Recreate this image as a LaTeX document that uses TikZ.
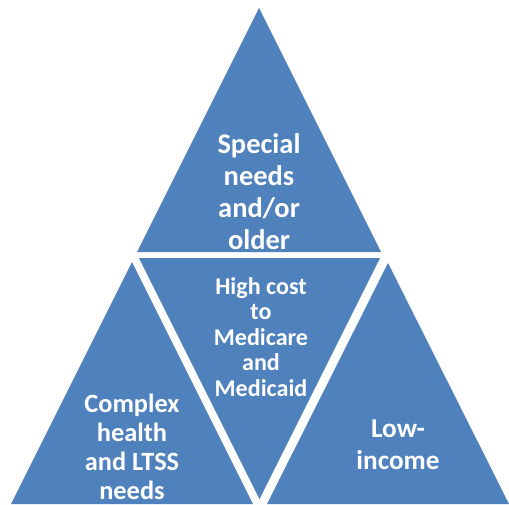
\documentclass[tikz,border=0pt]{standalone}
\usepackage{fontspec}
\setmainfont{Carlito}
\definecolor{triblue}{RGB}{79,129,189}
\begin{document}
\begin{tikzpicture}[x=0.02cm,y=-0.02cm,
    tritext/.style={text=white,align=center},
    big/.style={tritext,font=\fontsize{16.2}{18.2}\selectfont\bfseries},
    small/.style={tritext,font=\fontsize{13.7}{14.5}\selectfont\bfseries}]
    \useasboundingbox (0,0) rectangle (509,504);
    % the four triangles
    \fill [triblue] (259,8) -- (381,252) -- (137,252) -- cycle;
    \fill [triblue] (139,258) -- (380,258) -- (259.5,499) -- cycle;
    \fill [triblue] (132,262) -- (253,504) -- (11,504) -- cycle;
    \fill [triblue] (388,263) -- (509,504) -- (267,504) -- cycle;
    % texts
    \node [big] (special) at (259,192) {Special\\needs\\and/or\\older};
    \node [small] (cost) at (261,337) {High cost\\to\\Medicare\\and\\Medicaid};
    \node [tritext,font=\fontsize{15}{16.4}\selectfont\bfseries] (complex) at (132,447) {Complex\\health\\and LTSS\\needs};
    \node [tritext,font=\fontsize{15.5}{18.2}\selectfont\bfseries] (low) at (398,445) {Low-\\income};
\end{tikzpicture}
\end{document}
